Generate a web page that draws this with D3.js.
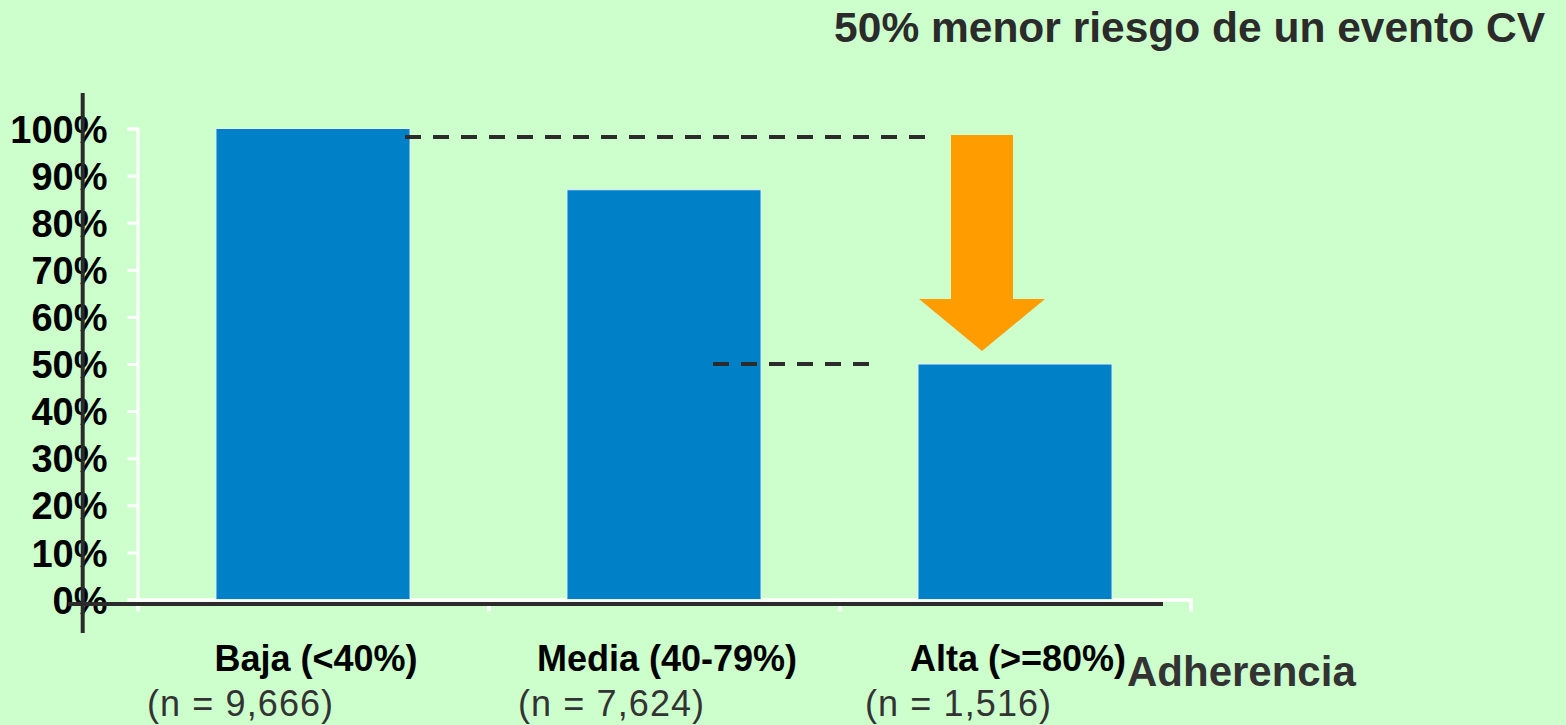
<!DOCTYPE html>
<html>
<head>
<meta charset="utf-8">
<script src="https://cdn.jsdelivr.net/npm/d3@7"></script>
<style>
  html, body { margin: 0; padding: 0; background: #CCFFCC; }
  svg { display: block; }
  text { font-family: "Liberation Sans", Arial, sans-serif; }
</style>
</head>
<body>
<svg id="chart" width="1566" height="725"></svg>
<script>
// Relative risk of a CV event by adherence level
const categories = ["Baja (<40%)", "Media (40-79%)", "Alta (>=80%)"];
const sampleSizes = ["(n = 9,666)", "(n = 7,624)", "(n = 1,516)"];
const riskValues = [100, 87, 50];
const yTicks = [0, 10, 20, 30, 40, 50, 60, 70, 80, 90, 100];
const refLevels = [98.2, 50];
const titleText = "50% menor riesgo de un evento CV";
const axisTitle = "Adherencia";

const svg = d3.select("#chart");
const W = 1566, H = 725;
svg.append("rect").attr("width", W).attr("height", H).attr("fill", "#CCFFCC");

const plot = { left: 137.5, right: 1190.5, top: 128.5, bottom: 599.5 };

const x = d3.scaleBand()
  .domain(categories)
  .range([plot.left, plot.right])
  .paddingInner(0.447)
  .paddingOuter(0.2235);

const y = d3.scaleLinear().domain([0, 100]).range([plot.bottom, plot.top]);

// edges of the category slots, for the bottom axis ticks
const edges = d3.scaleLinear().domain([0, categories.length]).range([plot.left, plot.right]);

// white left axis with percentage labels
const yAxis = svg.append("g")
  .attr("transform", `translate(${plot.left},0)`)
  .call(d3.axisLeft(y).tickValues(yTicks).tickFormat(d => d + "%")
    .tickSize(10).tickSizeOuter(10).tickPadding(20));
yAxis.selectAll("path, line").attr("stroke", "#ffffff").attr("stroke-width", 3);
yAxis.selectAll("text")
  .attr("fill", "#000")
  .attr("dy", "0.36em")
  .style("font-size", "38px")
  .style("font-weight", "bold")
  .style("font-family", "'Liberation Sans', Arial, sans-serif");

// white bottom axis with slot separators
const xAxis = svg.append("g")
  .attr("transform", `translate(0,${plot.bottom})`)
  .call(d3.axisBottom(edges).tickValues(d3.range(1, categories.length))
    .tickFormat("").tickSize(12).tickSizeOuter(12));
xAxis.selectAll("path, line").attr("stroke", "#ffffff").attr("stroke-width", 3.5);

// bars
svg.append("g").selectAll("rect")
  .data(riskValues)
  .join("rect")
  .attr("x", (d, i) => x(categories[i]))
  .attr("y", d => y(d))
  .attr("width", x.bandwidth())
  .attr("height", d => y(0) - y(d))
  .attr("fill", "#0080C6")
  .attr("stroke", "#e6f3ff")
  .attr("stroke-width", 1);

// dark overlay axes
const dark = "#2b2b2b";
svg.append("line").attr("x1", 82.7).attr("x2", 82.7).attr("y1", 93).attr("y2", 633)
  .attr("stroke", dark).attr("stroke-width", 4);
svg.append("line").attr("x1", 68).attr("x2", 1163).attr("y1", 604).attr("y2", 604)
  .attr("stroke", dark).attr("stroke-width", 4);

// dashed reference lines
const refSpans = [[405, 925], [713, 869]];
svg.append("g").selectAll("line")
  .data(refLevels)
  .join("line")
  .attr("x1", (d, i) => refSpans[i][0])
  .attr("x2", (d, i) => refSpans[i][1])
  .attr("y1", d => y(d))
  .attr("y2", d => y(d))
  .attr("stroke", dark)
  .attr("stroke-width", 4)
  .attr("stroke-dasharray", "16 12");

// downward arrow
const ax = x(categories[2]) + x.bandwidth() / 2 - 33;
const aTop = 135, aNeck = 299, aTip = 351, shaftHalf = 31, headHalf = 63;
svg.append("path")
  .attr("d", d3.line()([
    [ax - shaftHalf, aTop], [ax + shaftHalf, aTop], [ax + shaftHalf, aNeck],
    [ax + headHalf, aNeck], [ax, aTip], [ax - headHalf, aNeck], [ax - shaftHalf, aNeck]
  ]) + "Z")
  .attr("fill", "#FF9C00");

// title
svg.append("text")
  .attr("x", 1545).attr("y", 42)
  .attr("text-anchor", "end")
  .attr("fill", "#2b2b2b")
  .style("font-size", "42.5px").style("font-weight", "bold")
  .text(titleText);

// category labels
svg.append("g").selectAll("text")
  .data(categories)
  .join("text")
  .attr("x", d => x(d) + x.bandwidth() / 2 + 3)
  .attr("y", 671)
  .attr("text-anchor", "middle")
  .attr("fill", "#000")
  .style("font-size", "36px").style("font-weight", "bold")
  .text(d => d);

// sample sizes
const nShift = [-166, -146, -150];
svg.append("g").selectAll("text")
  .data(sampleSizes)
  .join("text")
  .attr("x", (d, i) => x(categories[i]) + x.bandwidth() / 2 + nShift[i])
  .attr("y", 716)
  .attr("fill", "#333")
  .style("font-size", "36px")
  .style("letter-spacing", "1.1px")
  .text(d => d);

// axis title
svg.append("text")
  .attr("x", 1127).attr("y", 686)
  .attr("fill", "#333")
  .style("font-size", "42px").style("font-weight", "bold")
  .text(axisTitle);
</script>
</body>
</html>
